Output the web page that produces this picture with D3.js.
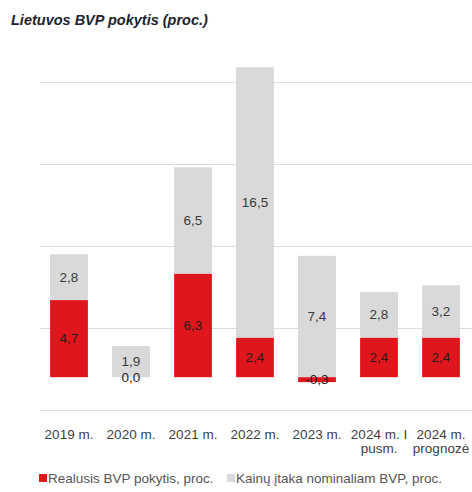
<!DOCTYPE html>
<html lang="lt">
<head>
<meta charset="utf-8">
<script src="https://cdn.jsdelivr.net/npm/d3@7"></script>
<style>
  html, body { margin: 0; padding: 0; background: #fff; }
  svg { display: block; font-family: "Liberation Sans", Arial, sans-serif; }
</style>
</head>
<body>
<svg id="chart" width="472" height="492"></svg>
<script>
// Lietuvos BVP pokytis: realusis augimas ir kainų įtaka, proc.
const categories = ["2019 m.", "2020 m.", "2021 m.", "2022 m.", "2023 m.", "2024 m. I pusm.", "2024 m. prognozė"];
const categoryLines = [["2019 m."], ["2020 m."], ["2021 m."], ["2022 m."], ["2023 m."], ["2024 m. I", "pusm."], ["2024 m.", "prognozė"]];
const realGrowth = [4.7, 0.0, 6.3, 2.4, -0.3, 2.4, 2.4];
const priceEffect = [2.8, 1.9, 6.5, 16.5, 7.4, 2.8, 3.2];
const gridTicks = [-2, 3, 8, 13, 18];
const seriesNames = ["Realusis BVP pokytis, proc.", "Kainų įtaka nominaliam BVP, proc."];

const RED = "#e0161d";
const GREY = "#d9d9d9";
const fmt = v => d3.format(".1f")(v).replace(".", ",").replace("−", "-");

const svg = d3.select("#chart");

svg.append("text")
  .attr("x", 11).attr("y", 25)
  .attr("font-size", 14.5).attr("font-weight", "bold").attr("font-style", "italic")
  .attr("fill", "#22222e")
  .text("Lietuvos BVP pokytis (proc.)");

const x = d3.scaleBand().domain(categories).range([38, 472]).paddingInner(0.39).paddingOuter(0.195);
const y = d3.scaleLinear().domain([-2, 18]).range([410, 82]);

// horizontal gridlines
svg.append("g").selectAll("line").data(gridTicks).join("line")
  .attr("x1", 40).attr("x2", 472)
  .attr("y1", d => Math.round(y(d)) + 0.5).attr("y2", d => Math.round(y(d)) + 0.5)
  .attr("stroke", "#dcdcdc").attr("stroke-width", 1);

// stacked segments: real growth from zero, price effect stacked on the positive side
const rows = categories.map((c, i) => {
  const r = realGrowth[i], p = priceEffect[i];
  const base = Math.max(r, 0);
  return {
    cat: c,
    real: { y0: Math.min(0, r), y1: Math.max(0, r), v: r },
    price: { y0: base, y1: base + p, v: p }
  };
});

const g = svg.append("g");
g.selectAll("rect.price").data(rows).join("rect")
  .attr("class", "price")
  .attr("x", d => x(d.cat)).attr("width", x.bandwidth())
  .attr("y", d => y(d.price.y1)).attr("height", d => y(d.price.y0) - y(d.price.y1))
  .attr("fill", GREY);
g.selectAll("rect.real").data(rows).join("rect")
  .attr("class", "real")
  .attr("x", d => x(d.cat)).attr("width", x.bandwidth())
  .attr("y", d => y(d.real.y1)).attr("height", d => y(d.real.y0) - y(d.real.y1))
  .attr("fill", RED);

// value labels, centred in each segment
const labelAttrs = sel => sel
  .attr("text-anchor", "middle").attr("dominant-baseline", "central")
  .attr("font-size", 13.5).attr("fill", "#3a3a3a");
g.selectAll("text.price").data(rows).join("text")
  .attr("class", "price").call(labelAttrs)
  .attr("x", d => x(d.cat) + x.bandwidth() / 2)
  .attr("y", d => (y(d.price.y0) + y(d.price.y1)) / 2)
  .text(d => fmt(d.price.v));
g.selectAll("text.real").data(rows).join("text")
  .attr("class", "real").call(labelAttrs)
  .attr("fill", "#2b1a1a")
  .attr("x", d => x(d.cat) + x.bandwidth() / 2)
  .attr("y", d => (y(d.real.y0) + y(d.real.y1)) / 2)
  .text(d => fmt(d.real.v));

// category axis
const axis = svg.append("g")
  .attr("transform", "translate(0,427)")
  .call(d3.axisBottom(x).tickSize(0).tickPadding(0));
axis.select(".domain").remove();
axis.selectAll(".tick text")
  .attr("font-family", "Liberation Sans, Arial, sans-serif")
  .attr("font-size", 13.5).attr("fill", "#404040")
  .attr("y", 0).attr("dy", null)
  .each(function (d) {
    const lines = categoryLines[categories.indexOf(d)];
    const t = d3.select(this).text(null);
    lines.forEach((ln, k) => {
      t.append("tspan").attr("x", 0).attr("y", 12 + k * 14).text(ln);
    });
  });

// legend
const legend = svg.append("g").attr("transform", "translate(39,478)");
const items = [
  { name: seriesNames[0], color: RED, x: 0 },
  { name: seriesNames[1], color: GREY, x: 188 }
];
const li = legend.selectAll("g").data(items).join("g")
  .attr("transform", d => `translate(${d.x},0)`);
li.append("rect").attr("x", 0).attr("y", -4).attr("width", 8).attr("height", 8).attr("fill", d => d.color);
li.append("text").attr("x", 9).attr("y", 0).attr("dominant-baseline", "central")
  .attr("font-size", 13.5).attr("fill", "#555").text(d => d.name);
</script>
</body>
</html>
